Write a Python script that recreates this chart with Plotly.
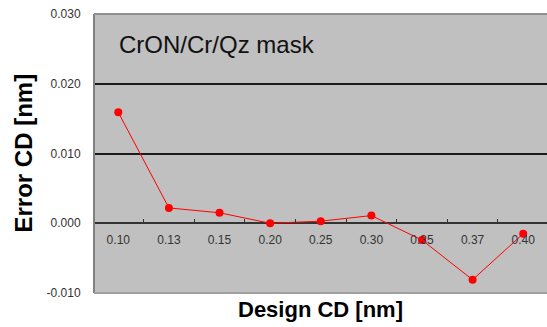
import plotly.graph_objects as go

categories = ["0.10", "0.13", "0.15", "0.20", "0.25", "0.30", "0.35", "0.37", "0.40"]
error_cd = [0.0159, 0.0022, 0.0015, 0.0000, 0.0003, 0.0011, -0.0024, -0.0081, -0.0015]
y_tickvals = [-0.010, 0.000, 0.010, 0.020, 0.030]
y_ticktext = ["-0.010", "0.000", "0.010", "0.020", "0.030"]

fig = go.Figure()
fig.add_trace(go.Scatter(
    x=categories, y=error_cd, mode="lines+markers",
    line=dict(color="#FF0000", width=1),
    marker=dict(color="#FF0000", size=8, symbol="circle"),
    showlegend=False,
))

fig.update_layout(
    width=547, height=327,
    margin=dict(l=94, r=0, t=14, b=34),
    paper_bgcolor="white", plot_bgcolor="#C0C0C0",
    font=dict(family="Liberation Sans, Arial, sans-serif", color="#222"),
    xaxis=dict(
        type="category", anchor="free", position=0.25,
        tickson="boundaries", ticks="inside", ticklen=4, tickcolor="#333",
        ticklabelstandoff=8,
        showgrid=False, showline=False, zeroline=False,
        tickfont=dict(size=12, color="#333"),
        range=[-0.48, 8.47],
    ),
    yaxis=dict(
        range=[-0.010, 0.030], tickvals=y_tickvals, ticktext=y_ticktext,
        showgrid=True, gridcolor="#1a1a1a", gridwidth=1.5,
        zeroline=True, zerolinecolor="#333", zerolinewidth=1.5,
        showline=False, ticks="outside", ticklen=10, tickcolor="rgba(0,0,0,0)",
        tickfont=dict(size=12, color="#333"),
    ),
    shapes=[
        dict(type="line", xref="paper", yref="paper", x0=0, x1=0, y0=0, y1=1,
             line=dict(color="#808080", width=2)),
        dict(type="line", xref="paper", yref="paper", x0=0, x1=1, y0=1, y1=1,
             line=dict(color="#909090", width=2)),
        dict(type="line", xref="paper", yref="paper", x0=0, x1=1, y0=0, y1=0,
             line=dict(color="#a0a0a0", width=2)),
    ],
    annotations=[
        dict(text="CrON/Cr/Qz mask", xref="paper", yref="paper", x=0.05, y=0.89,
             xanchor="left", yanchor="middle", showarrow=False,
             font=dict(size=24, color="#111")),
        dict(text="<b>Design CD [nm]</b>", xref="paper", yref="paper", x=0.5, y=0,
             yshift=-16, xanchor="center", yanchor="middle", showarrow=False,
             font=dict(size=22, color="#000")),
        dict(text="<b>Error CD [nm]</b>", xref="paper", yref="paper", x=0, y=0.5,
             xshift=-71, textangle=-90, xanchor="center", yanchor="middle",
             showarrow=False, font=dict(size=24, color="#000")),
    ],
)

fig.write_html("out.html", config={"displayModeBar": False},
               post_script="document.body.style.margin='0';")
